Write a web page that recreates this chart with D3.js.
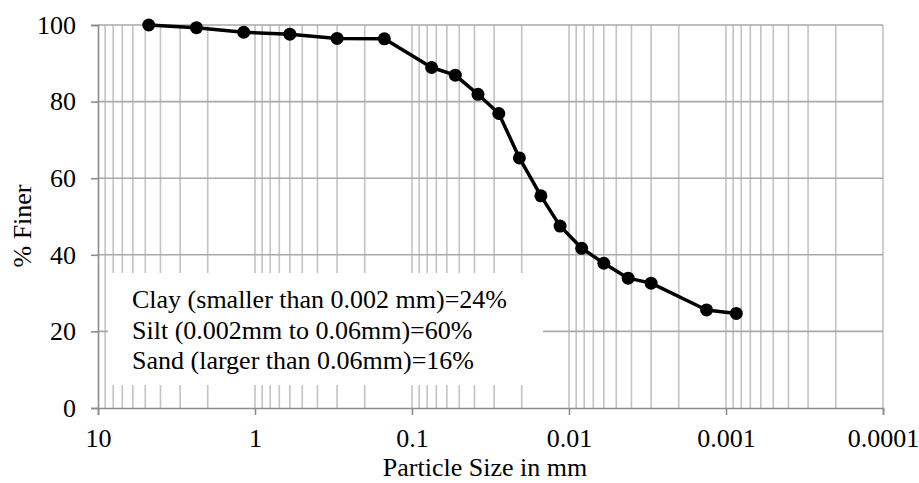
<!DOCTYPE html>
<html>
<head>
<meta charset="utf-8">
<script src="https://cdn.jsdelivr.net/npm/d3@7"></script>
<style>
  body { margin: 0; background: #fff; }
  text { font-family: "Liberation Serif", "Times New Roman", serif; fill: #000; }
</style>
</head>
<body>
<div id="chart"></div>
<script>
// sieve / hydrometer results
const particleSize = [4.75, 2.36, 1.18, 0.6, 0.3, 0.15, 0.075, 0.053, 0.038, 0.028, 0.0207, 0.0151, 0.0114, 0.0083, 0.006, 0.0042, 0.003, 0.00133, 0.00086];
const percentFiner = [100, 99.3, 98.1, 97.6, 96.5, 96.4, 88.9, 86.9, 81.9, 76.9, 65.3, 55.4, 47.5, 41.7, 37.8, 33.9, 32.6, 25.6, 24.7];

const xTicks = [10, 1, 0.1, 0.01, 0.001, 0.0001];
const xTickLabels = ['10', '1', '0.1', '0.01', '0.001', '0.0001'];
const yTicks = [0, 20, 40, 60, 80, 100];

const noteLines = [
  'Clay (smaller than 0.002 mm)=24%',
  'Silt (0.002mm to 0.06mm)=60%',
  'Sand (larger than 0.06mm)=16%'
];

const width = 919;
const height = 483;
const margin = { top: 25, right: 36, bottom: 75, left: 98 };
const innerW = width - margin.left - margin.right;
const innerH = height - margin.top - margin.bottom;

const svg = d3.select('#chart')
  .append('svg')
  .attr('width', width)
  .attr('height', height);

const g = svg.append('g')
  .attr('transform', `translate(${margin.left},${margin.top})`);

// reversed log scale, coarse on the left
const x = d3.scaleLog()
  .domain([10, 0.0001])
  .range([0, innerW]);

const y = d3.scaleLinear()
  .domain([0, 100])
  .range([innerH, 0]);

// minor vertical grid: 1..9 x each decade
const minorVals = [];
for (let e = -4; e < 1; e++) {
  for (let m = 1; m <= 9; m++) {
    const v = m * Math.pow(10, e);
    if (v < 10) minorVals.push(v);
  }
}
g.append('g')
  .selectAll('line')
  .data(minorVals)
  .enter().append('line')
  .attr('x1', d => x(d))
  .attr('x2', d => x(d))
  .attr('y1', 0)
  .attr('y2', innerH)
  .attr('stroke', '#c3c3c3')
  .attr('stroke-width', 1.6);

// horizontal grid
g.append('g')
  .selectAll('line')
  .data(yTicks.filter(d => d > 0))
  .enter().append('line')
  .attr('x1', 0)
  .attr('x2', innerW)
  .attr('y1', d => y(d))
  .attr('y2', d => y(d))
  .attr('stroke', '#a9a9a9')
  .attr('stroke-width', 1.6);

// note box hides grid behind it
const box = { x: 10, y: 248, w: 435, h: 112 };
g.append('rect')
  .attr('x', box.x)
  .attr('y', box.y)
  .attr('width', box.w)
  .attr('height', box.h)
  .attr('fill', '#fff');

// axes
const xAxis = g.append('g')
  .attr('transform', `translate(0,${innerH})`)
  .call(d3.axisBottom(x).tickValues(xTicks).tickFormat((d, i) => xTickLabels[i]).tickSize(7).tickPadding(14));

const yAxis = g.append('g')
  .call(d3.axisLeft(y).tickValues(yTicks).tickSize(7).tickPadding(15));

[xAxis, yAxis].forEach(a => {
  a.select('.domain').attr('stroke', '#8c8c8c').attr('stroke-width', 1.6);
  a.selectAll('.tick line').attr('stroke', '#8c8c8c').attr('stroke-width', 1.6);
  a.selectAll('.tick text').style('font-size', '26px').attr('fill', '#000')
    .style('font-family', '"Liberation Serif", serif');
});

// curve
const pts = particleSize.map((d, i) => ({ size: d, finer: percentFiner[i] }));

g.append('path')
  .datum(pts)
  .attr('fill', 'none')
  .attr('stroke', '#000')
  .attr('stroke-width', 3.5)
  .attr('stroke-linejoin', 'round')
  .attr('d', d3.line().x(d => x(d.size)).y(d => y(d.finer)));

g.selectAll('.pt')
  .data(pts)
  .enter().append('circle')
  .attr('class', 'pt')
  .attr('cx', d => x(d.size))
  .attr('cy', d => y(d.finer))
  .attr('r', 6.5)
  .attr('fill', '#000');

// note text
g.append('g')
  .selectAll('text')
  .data(noteLines)
  .enter().append('text')
  .attr('x', 34)
  .attr('y', (d, i) => 283 + i * 30.5)
  .style('font-size', '26px')
  .text(d => d);

// axis titles
svg.append('text')
  .attr('x', margin.left + x(0.01) - 84)
  .attr('y', 476)
  .attr('text-anchor', 'middle')
  .style('font-size', '26px')
  .text('Particle Size in mm');

svg.append('text')
  .attr('transform', 'translate(31,226) rotate(-90)')
  .attr('text-anchor', 'middle')
  .style('font-size', '26px')
  .text('% Finer');
</script>
</body>
</html>
